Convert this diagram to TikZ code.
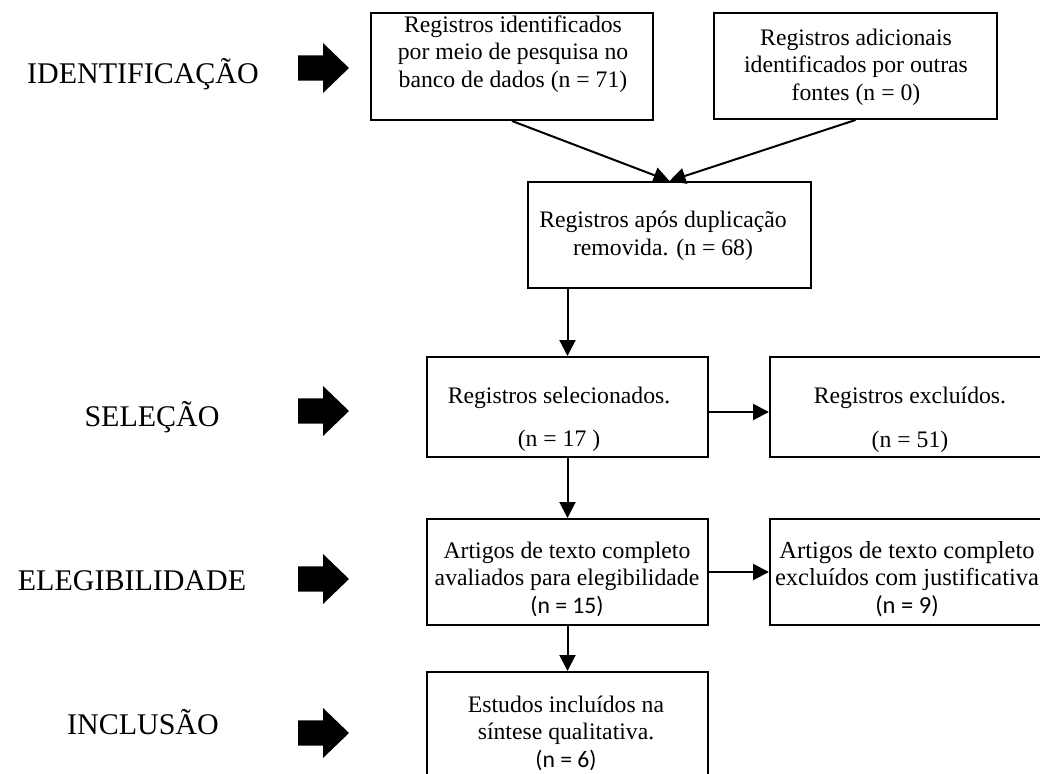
\documentclass[tikz,border=0pt]{standalone}
\usepackage{fontspec}
\setmainfont{Liberation Serif}
\newfontfamily\calib{Carlito}
\usetikzlibrary{arrows.meta}
\begin{document}
\begin{tikzpicture}[x=1pt,y=-1pt,
  box/.style={draw, line width=2pt, rectangle, inner sep=0pt},
  txt/.style={align=center, font=\fontsize{23.7}{27.5}\selectfont, inner sep=0pt},
  lab/.style={font=\fontsize{30}{34}\selectfont, inner sep=0pt},
  conn/.style={line width=2pt, -{Triangle[length=16pt,width=16pt]}},
  blockarrow/.style={fill=black}]
\clip (0,0) rectangle (1040,773);
\fill[white] (0,0) rectangle (1040,773);
% boxes
\node[box, minimum width=282pt, minimum height=107pt] (b1) at (512,66.5) {};
\node[box, minimum width=283pt, minimum height=106pt] (b2) at (855.5,66) {};
\node[box, minimum width=283pt, minimum height=106pt] (b3) at (669.5,235) {};
\node[box, minimum width=281pt, minimum height=100pt] (b4) at (567.5,407) {};
\node[box, minimum width=281pt, minimum height=100pt] (b5) at (910.5,407) {};
\node[box, minimum width=281pt, minimum height=106pt] (b6) at (567.5,572) {};
\node[box, minimum width=281pt, minimum height=106pt] (b7) at (910.5,572) {};
\node[box, minimum width=281pt, minimum height=118pt] (b8) at (567.5,731) {};
% texts
\node[txt] (t1) at (513,54) {Registros identificados\\por meio de pesquisa no\\banco de dados (n = 71)};
\node[txt] (t2) at (856,67) {Registros adicionais\\identificados por outras\\fontes (n = 0)};
\node[txt] (t3) at (663,236) {Registros após duplicação\\removida. (n = 68)};
\node[txt] (t4) at (559,419.5) {Registros selecionados.\\[16pt](n = 17 )};
\node[txt] (t5) at (910,420) {Registros excluídos.\\[16pt](n = 51)};
\node[txt] (t6) at (567,579) {Artigos de texto completo\\avaliados para elegibilidade\\{\calib (n = 15)}};
\node[txt, font=\fontsize{24.5}{27.5}\selectfont] (t7) at (907,579) {Artigos de texto completo\\excluídos com justificativa\\{\calib (n = 9)}};
\node[txt] (t8) at (566,733) {Estudos incluídos na\\síntese qualitativa.\\{\calib (n = 6)}};
% stage labels
\node[lab] (l1) at (143,74) {IDENTIFICAÇÃO};
\node[lab] (l2) at (152,417) {SELEÇÃO};
\node[lab] (l3) at (132,581) {ELEGIBILIDADE};
\node[lab] (l4) at (143,722) {INCLUSÃO};
% block arrows
\foreach \yy in {68,411,579,733}{
  \fill[blockarrow, shift={(298,\yy)}] (0,-12.7) -- (25,-12.7) -- (25,-25) -- (51,0) -- (25,25) -- (25,12.7) -- (0,12.7) -- cycle;
}
% connectors
\draw[conn] (b1.south) -- (b3.north);
\draw[conn] (b2.south) -- (b3.north);
\draw[conn] (b4.north |- b3.south) -- (b4.north);
\draw[conn] ([yshift=-5pt]b4.east) -- ([yshift=-5pt]b5.west);
\draw[conn] (b4.south) -- (b6.north);
\draw[conn] (b6.east) -- (b7.west);
\draw[conn] (b6.south) -- (b8.north);
\end{tikzpicture}
\end{document}
